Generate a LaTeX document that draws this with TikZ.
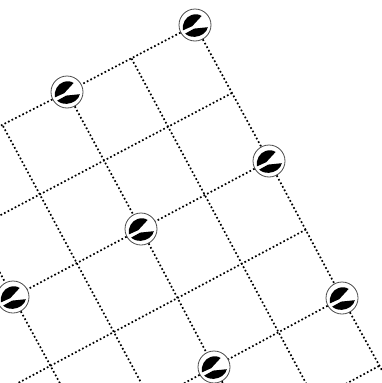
\documentclass[tikz,border=0pt]{standalone}
\tikzset{
  x=1pt,y=-1pt,
  gridline/.style={line width=1.7pt,black,dash pattern=on 1.7pt off 2.3pt},
  hub/.style={circle,draw=black!70,line width=0.8pt,fill=white,minimum size=32pt,inner sep=0pt}
}
\newcommand{\rotorglyph}[1]{%
  \fill[black,shift={(#1)}] (-12.2,5.4) .. controls (-13,-1.5) and (-9.5,-8) .. (-3.5,-10) .. controls (0,-11.2) and (4,-11) .. (6.6,-9) -- (-2.8,1.2) -- cycle;
  \fill[black,shift={(#1)}] (-9.8,8.6) -- (-0.8,3.6) -- (12.8,2.2) .. controls (12,7.6) and (6,11.4) .. (0,11.8) .. controls (-4,12) and (-7.6,10.8) .. (-9.8,8.6) -- cycle;
}
\begin{document}
\begin{tikzpicture}
\useasboundingbox (0,0) rectangle (382,383);
\clip (0,0) rectangle (382,383);
\fill[white] (0,0) rectangle (382,383);
% free ends
\coordinate (a1) at (-1,126.5);
\coordinate (a2) at (232,93);
\coordinate (a2l) at (-2,216.5);
\coordinate (a3l) at (-8,308);
\coordinate (a4) at (306,229.5);
\coordinate (a4l) at (-10,398);
\coordinate (a5l) at (170,391);
\coordinate (a6) at (379,366);
\coordinate (a6l) at (340,387);
\coordinate (b1) at (394,392);
\coordinate (b2) at (131.5,58.5);
\coordinate (b2e) at (308,387);
\coordinate (b3e) at (225,387);
\coordinate (b4) at (3,126);
\coordinate (b4e) at (145,390);
\coordinate (b5) at (-8,258);
\coordinate (b5e) at (62,387);
% hubs
\node[hub] (h1) at (195,25) {};
\node[hub] (h2) at (67,92) {};
\node[hub] (h3) at (269,161) {};
\node[hub] (h4) at (141,229) {};
\node[hub] (h5) at (13,297) {};
\node[hub] (h6) at (342,298) {};
\node[hub] (h7) at (214,367) {};
% lines, one family
\draw[gridline] (h1) -- (h2);
\draw[gridline] (h2) -- (a1);
\draw[gridline] (a2) -- (a2l);
\draw[gridline] (h3) -- (h4);
\draw[gridline] (h4) -- (h5);
\draw[gridline] (h5) -- (a3l);
\draw[gridline] (a4) -- (a4l);
\draw[gridline] (h6) -- (h7);
\draw[gridline] (h7) -- (a5l);
\draw[gridline] (a6) -- (a6l);
% other family
\draw[gridline] (h1) -- (h3);
\draw[gridline] (h3) -- (h6);
\draw[gridline] (h6) -- (b1);
\draw[gridline] (b2) -- (b2e);
\draw[gridline] (h2) -- (h4);
\draw[gridline] (h4) -- (h7);
\draw[gridline] (h7) -- (b3e);
\draw[gridline] (b4) -- (b4e);
\draw[gridline] (b5) -- (h5);
\draw[gridline] (h5) -- (b5e);
% rotor glyphs
\foreach \n in {h1,h2,h3,h4,h5,h6,h7} {
  \rotorglyph{\n}
}
\end{tikzpicture}
\end{document}
